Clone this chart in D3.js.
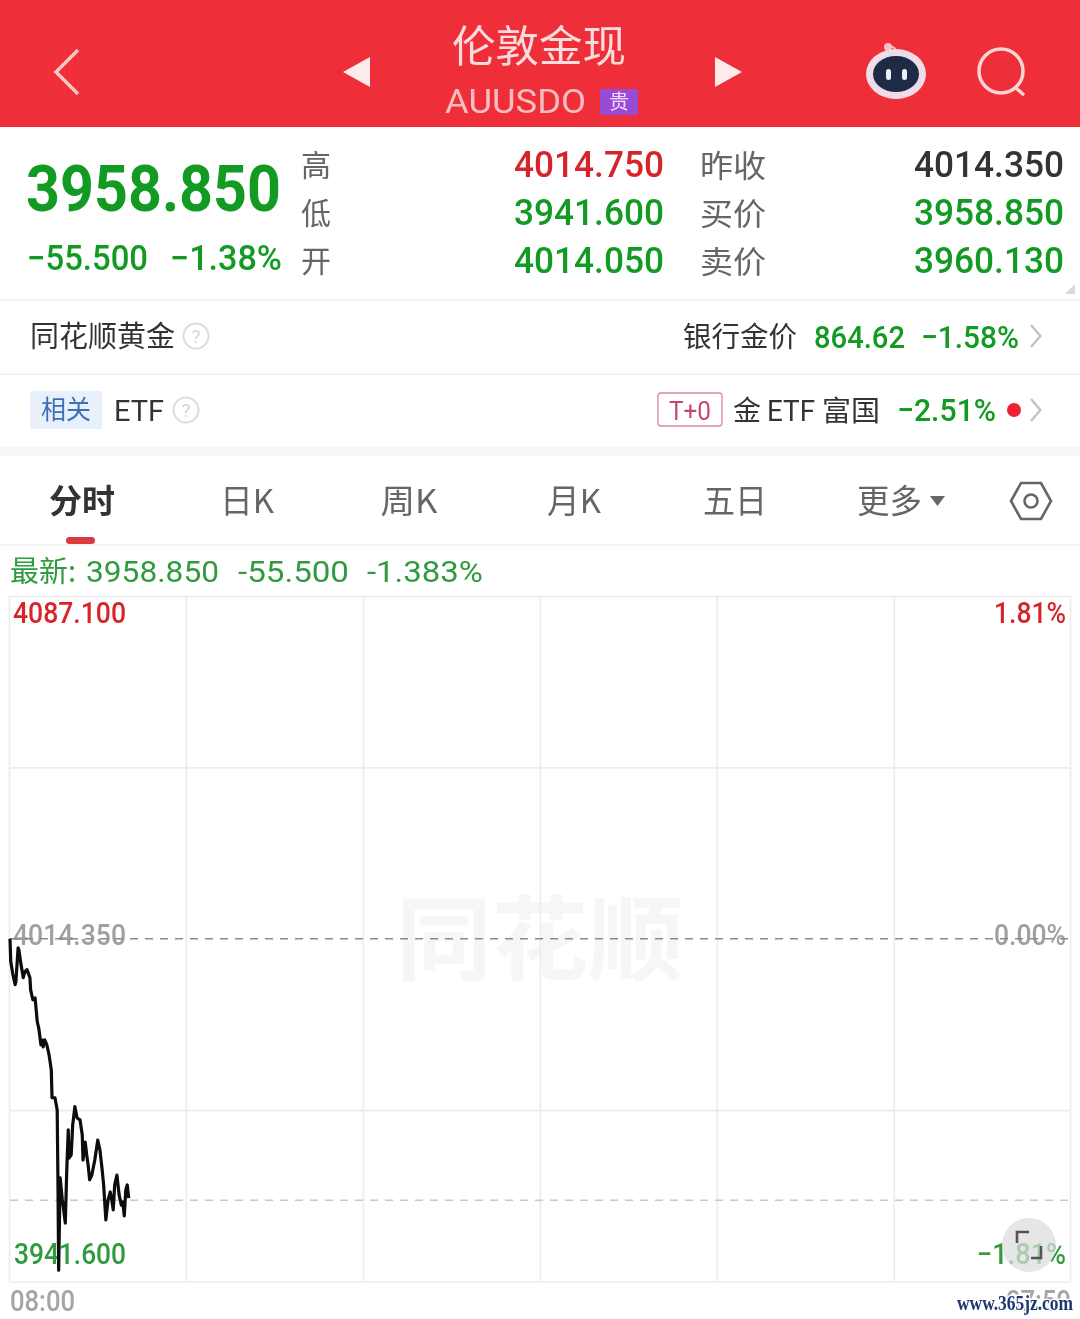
<!DOCTYPE html>
<html>
<head>
<meta charset="utf-8">
<script src="https://cdn.jsdelivr.net/npm/d3@7.9.0/dist/d3.min.js"></script>
<style>
  html, body { margin: 0; padding: 0; background: #fff; overflow: hidden; }
  svg { display: block; filter: blur(0.45px); }
  text { font-family: Roboto, "Noto Sans CJK SC", sans-serif; }
  .cjk { font-family: "Noto Sans CJK SC", sans-serif; }
</style>
</head>
<body>
<div id="chart"></div>
<script>
// minutes after 08:00
const minutes = [0, 1, 4, 7, 8, 11, 12, 15, 18, 20, 23, 27, 28, 31, 34, 37, 39, 42, 43, 45, 47, 50, 53, 56, 57, 61, 64, 65, 66, 68, 71, 72, 75, 77, 79, 80, 83, 85, 88, 91, 95, 98, 99, 102, 104, 106, 108, 111, 115, 119, 122, 125, 127, 130, 133, 136, 138, 140, 142, 145, 148, 151, 153, 155, 157, 159, 161];
const prices = [4014.35, 4009.5, 4006.7, 4004.6, 4005.2, 4012.4, 4012.0, 4008.8, 4006.1, 4007.3, 4007.8, 4006.1, 4003.5, 4001.4, 4001.8, 3996.7, 3995.4, 3991.8, 3992.9, 3991.4, 3992.9, 3991.8, 3989.7, 3986.5, 3980.6, 3980.6, 3978.0, 3963.2, 3944.0, 3963.6, 3958.9, 3957.8, 3954.0, 3965.3, 3973.8, 3967.8, 3968.5, 3974.8, 3978.7, 3976.3, 3975.9, 3972.7, 3967.4, 3971.2, 3968.5, 3966.3, 3963.2, 3964.2, 3967.4, 3971.6, 3969.5, 3965.3, 3962.1, 3954.7, 3958.9, 3960.6, 3958.9, 3956.8, 3962.1, 3964.2, 3960.0, 3957.8, 3958.5, 3955.5, 3961.0, 3962.1, 3959.3];

const priceTicks = [3941.6, 3977.975, 4014.35, 4050.725, 4087.1];
const minuteTicks = [0, 240, 480, 720, 960, 1200, 1439];
const prevClose = 4014.35;
const lastPrice = 3958.85;

const tabs = ['分时', '日K', '周K', '月K', '五日', '更多'];
const quoteLabels = ['高', '低', '开'];
const quoteValues = ['4014.750', '3941.600', '4014.050'];
const sideLabels = ['昨收', '买价', '卖价'];
const sideValues = ['4014.350', '3958.850', '3960.130'];

const width = 1080;
const height = 1319;
const GREEN = '#129a22';
const RED = '#d6242a';

const svg = d3.select('#chart').append('svg')
    .attr('width', width)
    .attr('height', height)
    .attr('viewBox', `0 0 ${width} ${height}`);

// text helper, w forces the rendered width so the narrow app font lines up
function txt(str, x, y, size, fill, o = {}) {
    const t = svg.append('text')
        .attr('x', x)
        .attr('y', y)
        .attr('font-size', size)
        .attr('fill', fill)
        .attr('text-anchor', o.anchor || 'start')
        .attr('font-weight', o.weight || 400)
        .text(str);
    if (o.cjk) t.attr('class', 'cjk');
    if (o.w) t.attr('textLength', o.w).attr('lengthAdjust', 'spacingAndGlyphs');
    if (o.family) t.style('font-family', o.family);
    if (o.opacity) t.attr('opacity', o.opacity);
    return t;
}

function chevron(x, y, s, color, sw) {
    svg.append('path')
        .attr('d', `M${x},${y - s}L${x + s * 0.85},${y}L${x},${y + s}`)
        .attr('fill', 'none')
        .attr('stroke', color)
        .attr('stroke-width', sw);
}

function help(x, y) {
    svg.append('circle').attr('cx', x).attr('cy', y).attr('r', 12.5)
        .attr('fill', 'none').attr('stroke', '#dcdcdc').attr('stroke-width', 2);
    txt('?', x, y + 7, 19, '#d5d5d5', { anchor: 'middle' });
}

// ---------- title bar ----------
svg.append('rect').attr('width', width).attr('height', 127).attr('fill', '#ee2f3a');
svg.append('path').attr('d', 'M78,50L56,72L78,94').attr('fill', 'none')
    .attr('stroke', '#f9c4c6').attr('stroke-width', 3.5);
svg.append('path').attr('d', 'M343,72L370,57V87Z').attr('fill', '#fdeaea');
svg.append('path').attr('d', 'M742,72L715,57V87Z').attr('fill', '#fdeaea');
txt('伦敦金现', 539, 62, 43, '#fbdcdc', { anchor: 'middle', cjk: true, w: 174 });
txt('AUUSDO', 445, 113, 33, '#f9bcbf', { w: 141 });
svg.append('rect').attr('x', 600).attr('y', 89).attr('width', 38).attr('height', 26).attr('rx', 2).attr('fill', '#9a4bd6');
txt('贵', 619, 109, 20, '#f0dcf8', { anchor: 'middle', cjk: true });

// robot icon
svg.append('circle').attr('cx', 888).attr('cy', 47).attr('r', 4).attr('fill', '#f7c0c4');
svg.append('path').attr('d', 'M888,46Q896,46 897,54').attr('fill', 'none').attr('stroke', '#f7c0c4').attr('stroke-width', 2);
svg.append('ellipse').attr('cx', 896).attr('cy', 74).attr('rx', 30).attr('ry', 25).attr('fill', '#efdcea');
svg.append('ellipse').attr('cx', 896).attr('cy', 74).attr('rx', 23).attr('ry', 18).attr('fill', '#1f2a47');
svg.append('rect').attr('x', 886).attr('y', 69).attr('width', 5).attr('height', 11).attr('rx', 2.5).attr('fill', '#eef');
svg.append('rect').attr('x', 902).attr('y', 69).attr('width', 5).attr('height', 11).attr('rx', 2.5).attr('fill', '#eef');

// search icon
svg.append('circle').attr('cx', 1001).attr('cy', 71).attr('r', 22).attr('fill', 'none')
    .attr('stroke', '#fbd6d4').attr('stroke-width', 3.5);
svg.append('path').attr('d', 'M1016,88L1024,95').attr('stroke', '#fbd6d4').attr('stroke-width', 3.5);

// ---------- quote block ----------
txt('3958.850', 26, 211, 64, GREEN, { weight: 700, w: 255 });
txt('−55.500', 27, 270, 35, GREEN, { weight: 500, w: 121 });
txt('−1.38%', 170, 270, 35, GREEN, { weight: 500, w: 112 });

const rowBase = [177, 225, 273];
quoteLabels.forEach((d, i) => {
    txt(d, 301, rowBase[i] - 1, 30, '#666', { cjk: true });
    txt(quoteValues[i], 514, rowBase[i], 36, i === 0 ? RED : GREEN, { weight: 500, w: 150 });
    txt(sideLabels[i], 700, rowBase[i], 31, '#666', { cjk: true, w: 66 });
    txt(sideValues[i], 914, rowBase[i], 36, i === 0 ? '#333' : GREEN, { weight: 500, w: 150 });
});
svg.append('path').attr('d', 'M1075,284V294H1065Z').attr('fill', '#d8d8d8');

// separators
svg.append('rect').attr('y', 299).attr('width', width).attr('height', 2).attr('fill', '#f3f3f3');
svg.append('rect').attr('y', 373).attr('width', width).attr('height', 2).attr('fill', '#f3f3f3');
svg.append('rect').attr('y', 447).attr('width', width).attr('height', 9).attr('fill', '#f6f6f6');
svg.append('rect').attr('y', 544).attr('width', width).attr('height', 2).attr('fill', '#f3f3f3');

// ---------- gold row ----------
txt('同花顺黄金', 30, 347, 29, '#333', { cjk: true, w: 145 });
help(196, 336);
txt('银行金价', 683, 347, 28.5, '#333', { cjk: true, w: 114 });
txt('864.62', 814, 348, 32, GREEN, { weight: 500, w: 91 });
txt('−1.58%', 921, 348, 32, GREEN, { weight: 500, w: 98 });
chevron(1031, 336, 11, '#c4c4c4', 2.5);

// ---------- etf row ----------
svg.append('rect').attr('x', 30).attr('y', 391).attr('width', 72).attr('height', 38).attr('rx', 2).attr('fill', '#e8f0fb');
txt('相关', 66, 419, 26, '#3f6fb5', { anchor: 'middle', cjk: true, w: 50 });
txt('ETF', 114, 421, 30, '#333', { w: 50 });
help(186, 410);
svg.append('rect').attr('x', 658).attr('y', 393).attr('width', 64).attr('height', 33).attr('rx', 3)
    .attr('fill', '#fff').attr('stroke', '#d98a9c').attr('stroke-width', 1.3);
txt('T+0', 690, 420, 26, '#c8476c', { anchor: 'middle', w: 42 });
txt('金', 733, 421, 28, '#333', { cjk: true });
txt('ETF', 767, 421, 29, '#333', { w: 48 });
txt('富国', 822, 421, 28.5, '#333', { cjk: true, w: 58 });
txt('−2.51%', 897, 421, 32, GREEN, { weight: 500, w: 99 });
svg.append('circle').attr('cx', 1014).attr('cy', 410).attr('r', 7).attr('fill', '#ee2233');
chevron(1031, 410, 11, '#c4c4c4', 2.5);

// ---------- tabs ----------
const tabX = [82, 247, 409, 574, 735, 889.5];
const tabW = [66, 54, 57, 54, 64, 65];
tabs.forEach((d, i) => {
    txt(d, tabX[i], 513, 33, i === 0 ? '#333' : '#666', {
        anchor: 'middle', cjk: true, weight: i === 0 ? 700 : 400, w: tabW[i]
    });
});
svg.append('rect').attr('x', 66).attr('y', 537).attr('width', 29).attr('height', 7).attr('rx', 3.5).attr('fill', '#db3a3f');
svg.append('path').attr('d', 'M930,496H945L937.5,506Z').attr('fill', '#666');
svg.append('path').attr('d', 'M1011,501L1021,483H1041L1051,501L1041,519H1021Z').attr('fill', 'none')
    .attr('stroke', '#666').attr('stroke-width', 2.6);
svg.append('circle').attr('cx', 1031).attr('cy', 501).attr('r', 6.5).attr('fill', 'none')
    .attr('stroke', '#666').attr('stroke-width', 2.6);

// ---------- latest line ----------
const LATEST = '#2f9a3e';
txt('最新:', 10, 582, 29, LATEST, { cjk: true, w: 66 });
txt('3958.850', 86, 582, 30, LATEST, { w: 133 });
txt('-55.500', 238, 582, 30, LATEST, { w: 111 });
txt('-1.383%', 367, 582, 30, LATEST, { w: 116 });

// ---------- chart ----------
const x = d3.scaleLinear().domain([0, 1439]).range([10, 1071]);
const y = d3.scaleLinear().domain([3941.6, 4087.1]).range([1281.5, 596]);

txt('同花顺', 540, 973, 92, '#f6f6f6', { anchor: 'middle', cjk: true, weight: 700, w: 288 });

const yGrid = svg.append('g')
    .attr('transform', `translate(${x(0)},0)`)
    .call(d3.axisLeft(y).tickValues(priceTicks).tickFormat('').tickSize(-(x(1439) - x(0))));
const xGrid = svg.append('g')
    .attr('transform', `translate(0,${y(3941.6)})`)
    .call(d3.axisBottom(x).offset(-0.5).tickValues(minuteTicks).tickFormat('').tickSize(-(y(3941.6) - y(4087.1))));
[yGrid, xGrid].forEach(g => {
    g.select('.domain').remove();
    g.selectAll('line').attr('stroke', '#ececec').attr('stroke-width', 1.6);
});
yGrid.selectAll('.tick').filter(d => d === prevClose).select('line').attr('stroke', 'none');

// labels sit under the dashed line and the price line
txt('4087.100', 13, 623, 29, RED, { weight: 500, w: 113 });
txt('1.81%', 1066, 623, 29, RED, { anchor: 'end', weight: 500, w: 72 });
txt('4014.350', 13, 945, 29, '#a0a0a0', { weight: 500, w: 113 });
txt('0.00%', 1066, 945, 29, '#a0a0a0', { anchor: 'end', weight: 500, w: 72 });
txt('3941.600', 14, 1264, 29, LATEST, { weight: 500, w: 112 });
txt('−1.81%', 1066, 1264, 29, LATEST, { anchor: 'end', weight: 500, w: 89 });
txt('08:00', 10, 1311, 29, '#a5a5a5', { weight: 500, w: 65 });
txt('07:59', 1071, 1311, 29, '#a5a5a5', { anchor: 'end', weight: 500, w: 65 });

svg.append('line')
    .attr('x1', x(0)).attr('x2', x(1439))
    .attr('y1', y(prevClose)).attr('y2', y(prevClose))
    .attr('stroke', '#8a8a8a').attr('stroke-width', 1.6).attr('stroke-dasharray', '8 7');
svg.append('line')
    .attr('x1', x(0)).attr('x2', x(1439))
    .attr('y1', y(lastPrice)).attr('y2', y(lastPrice))
    .attr('stroke', '#c8c8c8').attr('stroke-width', 1.4).attr('stroke-dasharray', '8 7');

const line = d3.line().x(d => x(d[0])).y(d => y(d[1]));
svg.append('path')
    .datum(d3.zip(minutes, prices))
    .attr('d', line)
    .attr('fill', 'none')
    .attr('stroke', '#0c0c0c')
    .attr('stroke-width', 3.2)
    .attr('stroke-linejoin', 'round');

// expand button over the right label
svg.append('circle').attr('cx', 1029).attr('cy', 1245).attr('r', 27).attr('fill', '#dcdcdc').attr('opacity', 0.72);
svg.append('path').attr('d', 'M1017,1243V1232H1029M1041,1246V1258H1031').attr('fill', 'none')
    .attr('stroke', '#555').attr('stroke-width', 2.6);

// site stamp
txt('www.365jz.com', 957, 1310, 20, '#1d3a70', { family: '"Liberation Serif", serif', weight: 700, w: 116 })
    .attr('stroke', '#fff').attr('stroke-width', 3).attr('paint-order', 'stroke');
</script>
</body>
</html>
